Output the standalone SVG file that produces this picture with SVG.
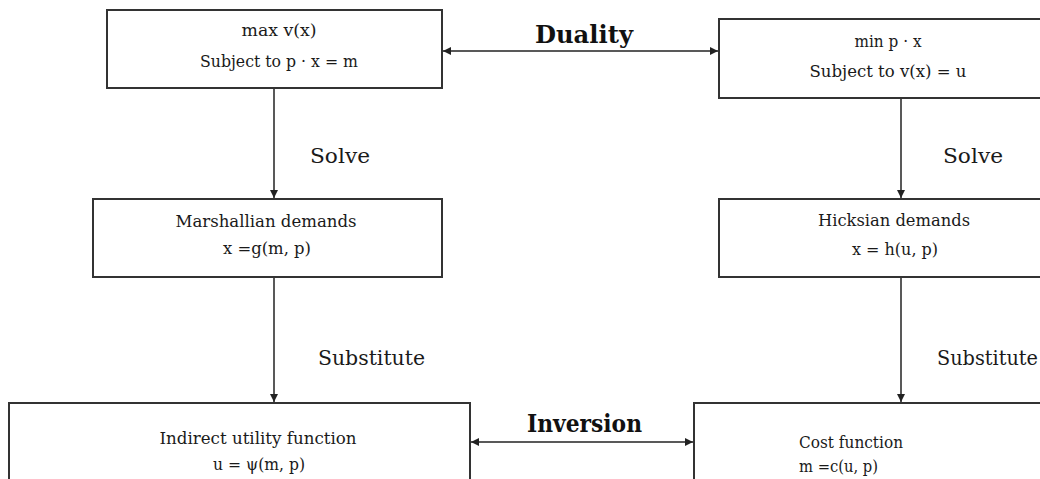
<svg xmlns="http://www.w3.org/2000/svg" width="1040" height="479" viewBox="0 0 1040 479">
<style>
.box{fill:#fff;stroke:#333;stroke-width:2}
.t{font-family:"DejaVu Serif","Liberation Serif",serif;font-size:16px;fill:#1a1a1a}
.lbl{font-family:"DejaVu Serif","Liberation Serif",serif;font-size:20px;fill:#1a1a1a}
.big{font-family:"DejaVu Serif","Liberation Serif",serif;font-size:25px;font-weight:bold;fill:#111}
.c{stroke:#222;stroke-width:1.5;fill:none}
</style>
<defs>
<marker id="ah" viewBox="0 0 10 10" refX="10" refY="5" markerWidth="8" markerHeight="8" markerUnits="userSpaceOnUse" orient="auto-start-reverse">
<path d="M0,0 L10,5 L0,10 z" fill="#222"/>
</marker>
</defs>
<rect width="1040" height="479" fill="#fff"/>
<g id="connectors">
<line class="c" x1="443" y1="51" x2="718" y2="51" marker-start="url(#ah)" marker-end="url(#ah)"/>
<line class="c" x1="471" y1="442" x2="693" y2="442" marker-start="url(#ah)" marker-end="url(#ah)"/>
<line class="c" x1="274" y1="89" x2="274" y2="198" marker-end="url(#ah)"/>
<line class="c" x1="901" y1="99" x2="901" y2="198" marker-end="url(#ah)"/>
<line class="c" x1="274" y1="278" x2="274" y2="402" marker-end="url(#ah)"/>
<line class="c" x1="901" y1="278" x2="901" y2="402" marker-end="url(#ah)"/>
<text class="big" x="535" y="43" textLength="98" lengthAdjust="spacingAndGlyphs">Duality</text>
<text class="big" x="527" y="432" textLength="115" lengthAdjust="spacingAndGlyphs">Inversion</text>
<text class="lbl" x="310" y="163" textLength="60" lengthAdjust="spacingAndGlyphs">Solve</text>
<text class="lbl" x="943" y="163" textLength="60" lengthAdjust="spacingAndGlyphs">Solve</text>
<text class="lbl" x="318" y="365" textLength="107" lengthAdjust="spacingAndGlyphs">Substitute</text>
<text class="lbl" x="937" y="365" textLength="101" lengthAdjust="spacingAndGlyphs">Substitute</text>
</g>
<g id="primal">
<rect class="box" x="107" y="10" width="335" height="78"/>
<text class="t" x="279" y="36" text-anchor="middle" textLength="75" lengthAdjust="spacingAndGlyphs">max v(x)</text>
<text class="t" x="279" y="67" text-anchor="middle" textLength="158" lengthAdjust="spacingAndGlyphs">Subject  to p · x = m</text>
</g>
<g id="dual">
<rect class="box" x="719" y="19" width="345" height="79"/>
<text class="t" x="888" y="47" text-anchor="middle" textLength="67" lengthAdjust="spacingAndGlyphs">min p · x</text>
<text class="t" x="888" y="77" text-anchor="middle" textLength="157" lengthAdjust="spacingAndGlyphs">Subject  to v(x) = u</text>
</g>
<g id="marshallian">
<rect class="box" x="93" y="199" width="349" height="78"/>
<text class="t" x="266" y="227" text-anchor="middle" textLength="181" lengthAdjust="spacingAndGlyphs">Marshallian  demands</text>
<text class="t" x="267" y="254" text-anchor="middle" textLength="88" lengthAdjust="spacingAndGlyphs">x =g(m, p)</text>
</g>
<g id="hicksian">
<rect class="box" x="719" y="199" width="345" height="78"/>
<text class="t" x="894" y="226" text-anchor="middle" textLength="152" lengthAdjust="spacingAndGlyphs">Hicksian demands</text>
<text class="t" x="895" y="255" text-anchor="middle" textLength="86" lengthAdjust="spacingAndGlyphs">x = h(u, p)</text>
</g>
<g id="indirect">
<rect class="box" x="9" y="403" width="461" height="90"/>
<text class="t" x="258" y="444" text-anchor="middle" textLength="197" lengthAdjust="spacingAndGlyphs">Indirect  utility function</text>
<text class="t" x="259" y="470" text-anchor="middle" textLength="92" lengthAdjust="spacingAndGlyphs">u = ψ(m, p)</text>
</g>
<g id="cost">
<rect class="box" x="694" y="403" width="370" height="90"/>
<text class="t" x="799" y="448" textLength="104" lengthAdjust="spacingAndGlyphs">Cost function</text>
<text class="t" x="799" y="472" textLength="79" lengthAdjust="spacingAndGlyphs">m =c(u, p)</text>
</g>
</svg>
